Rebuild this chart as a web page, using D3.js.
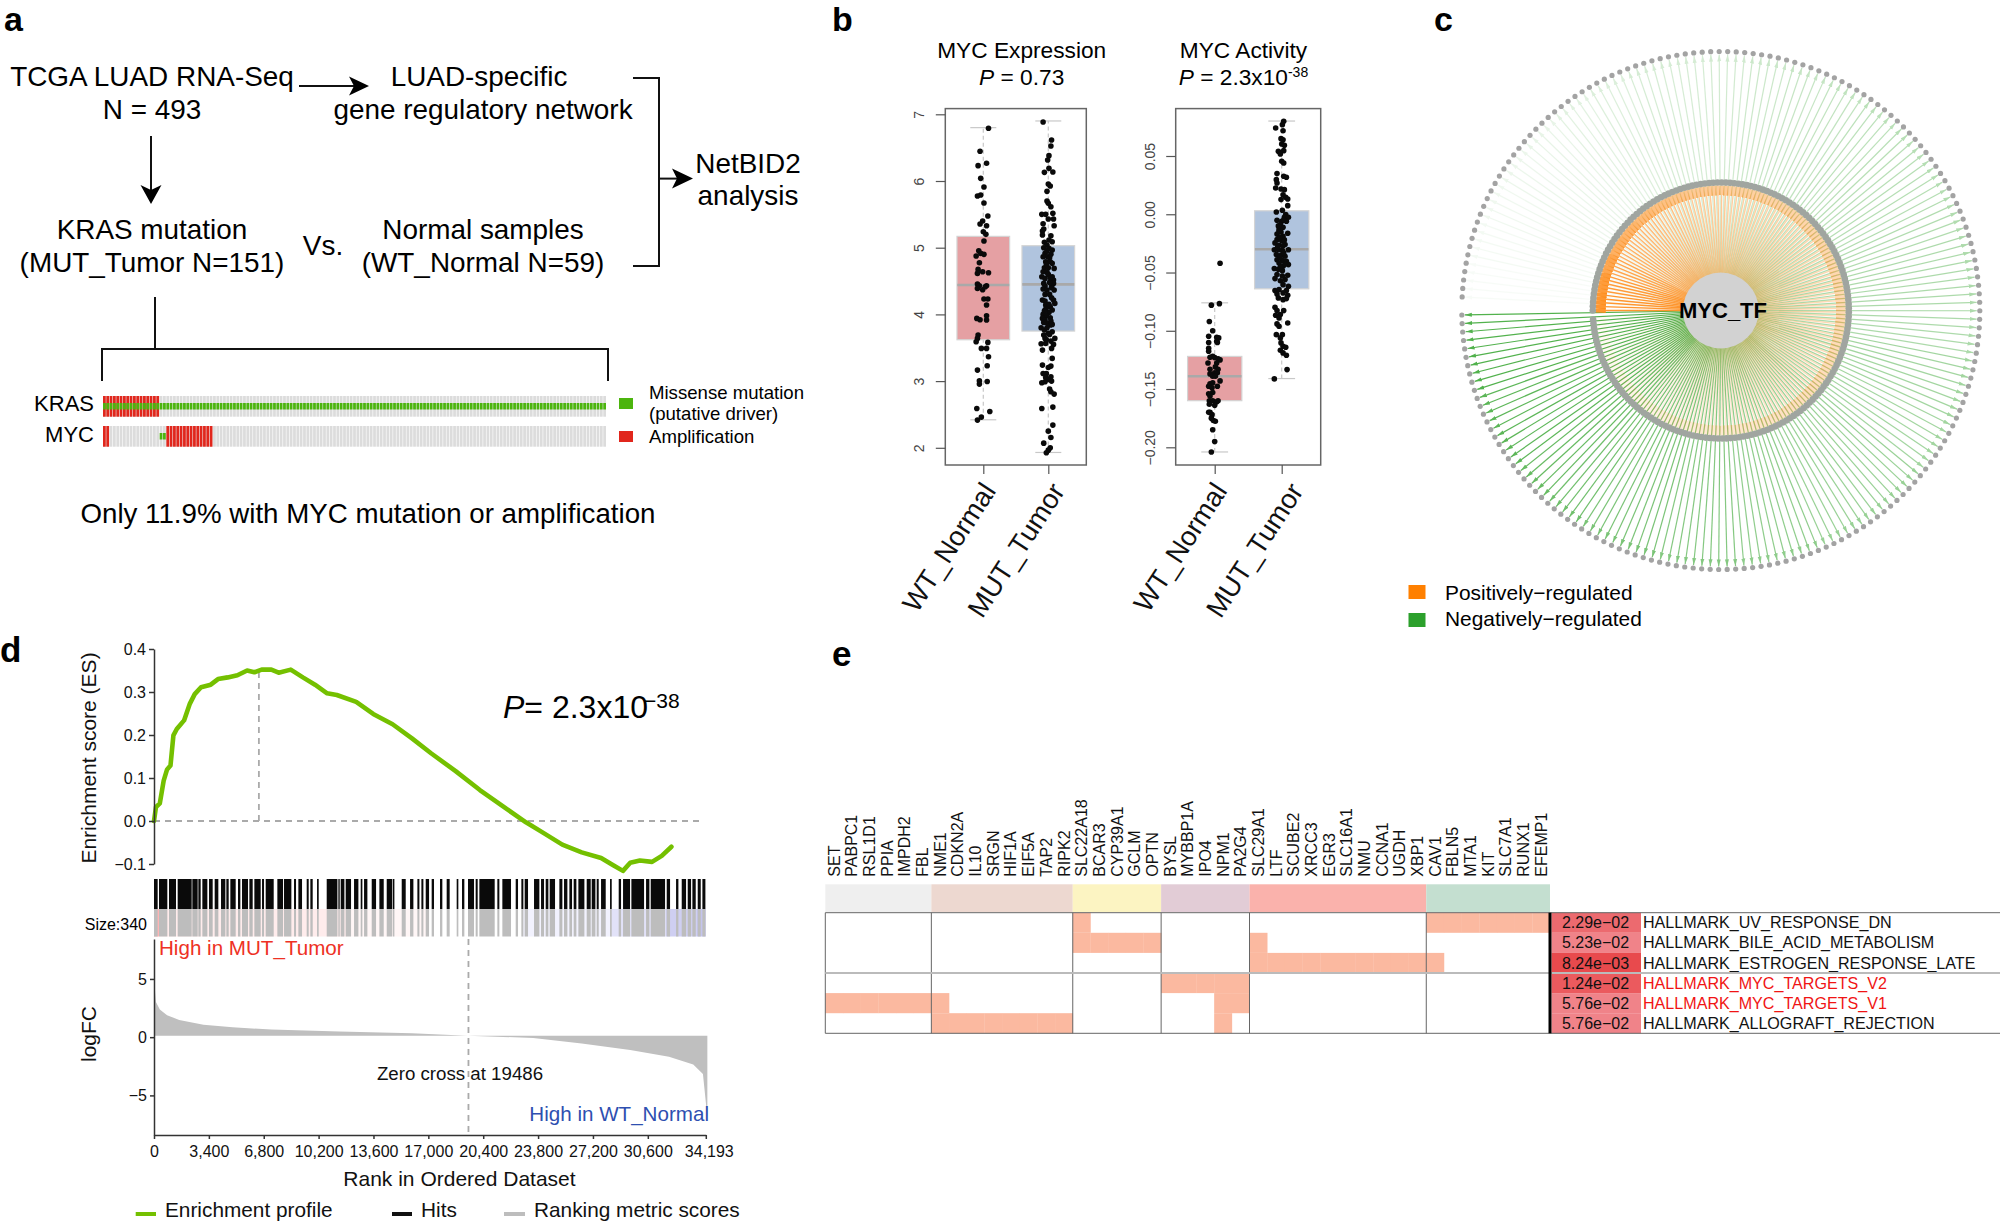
<!DOCTYPE html>
<html lang="en">
<head>
    <meta charset="UTF-8">
    <script src="https://d3js.org/d3.v7.min.js"></script>
    <title>MYC figure</title>
    <style>
        body { margin: 0; background: #fff; }
        text { font-family: "Liberation Sans", Arial, sans-serif; }
    </style>
</head>
<body>
    <div id="canvas"></div>
<script>
// panel a: oncoprint, sample indices per alteration (151 KRAS mutant tumours)
const sampleIds = d3.range(151)
const krasAmp = [0,1,2,3,4,5,6,7,8,9,10,11,12,13,14,15,16]
const mycAmp = [0,1,19,20,21,22,23,24,25,26,27,28,29,30,31,32]
const mycMissense = [17,18]

// panel b: [jitter in group units, value]
const groups = ["WT_Normal", "MUT_Tumor"]
const wtExpr = [[.08,6.79],[-.05,6.445],[.05,6.265],[-.08,6.23],[-.04,6.04],[.01,5.91],[-.04,5.79],[-.09,5.775],[.01,5.67],[.07,5.475],[-.01,5.40],[-.05,5.355],[.05,5.33],[0,5.24],[.04,5.20],[.01,5.10],[-.07,4.955],[-.04,4.915],[.01,4.90],[-.11,4.875],[-.06,4.775],[-.08,4.675],[-.09,4.615],[-.01,4.64],[.08,4.625],[-.09,4.455],[-.06,4.43],[.05,4.43],[-.09,4.39],[-.01,4.37],[.03,4.415],[.01,4.23],[.07,4.23],[.05,4.14],[-.10,3.94],[-.05,3.92],[.05,3.98],[.05,3.915],[-.08,3.69],[-.09,3.64],[-.11,3.59],[.07,3.58],[-.03,3.49],[.05,3.49],[.08,3.365],[.06,3.23],[-.09,3.165],[-.06,3.005],[-.06,2.955],[.06,2.995],[-.10,2.59],[.10,2.545],[-.03,2.46],[-.09,2.415]]
const mutExpr = [[-.08,6.885],[.05,6.615],[.04,6.525],[.01,6.38],[-.01,6.315],[.01,6.19],[-.06,6.13],[.07,6.135],[0,5.955],[.03,5.925],[-.02,5.845],[-.02,5.70],[0,5.665],[.04,5.615],[-.10,5.50],[-.04,5.50],[.07,5.515],[0,5.43],[.08,5.43],[-.08,5.36],[.09,5.33],[-.07,5.28],[-.09,5.25],[-.09,5.19],[.04,5.18],[.01,5.115],[.06,5.09],[-.06,5.08],[-.02,5.04],[-.07,5.0],[.01,4.99],[.06,4.965],[-.05,4.915],[-.08,4.865],[-.01,4.865],[-.04,4.79],[.03,4.79],[.06,4.765],[-.06,4.70],[0,4.70],[.09,4.69],[-.08,4.64],[-.02,4.63],[-.10,4.565],[-.05,4.54],[.06,4.565],[.08,4.515],[-.07,4.465],[.08,4.465],[-.05,4.425],[.05,4.415],[-.08,4.38],[-.02,4.365],[.05,4.40],[.09,4.365],[-.09,4.215],[-.05,4.20],[.08,4.215],[.10,4.165],[-.04,4.14],[.03,4.115],[.06,4.065],[-.05,4.065],[.01,4.03],[-.08,4.0],[-.03,3.98],[-.09,3.94],[-.05,3.915],[-.01,3.865],[.03,3.84],[-.11,3.80],[-.06,3.765],[.06,3.74],[0,3.715],[-.07,3.69],[-.05,3.64],[.10,3.64],[.04,3.60],[-.11,3.56],[-.04,3.565],[.08,3.55],[.05,3.49],[-.09,3.465],[.06,3.34],[-.09,3.24],[.04,3.225],[0,3.205],[-.08,3.115],[-.03,3.115],[-.04,3.055],[.04,3.065],[.01,3.025],[.05,3.0],[-.05,2.99],[-.10,2.975],[.02,2.88],[.04,2.84],[.09,2.805],[-.10,2.59],[.07,2.61],[.07,2.34],[0,2.25],[.04,2.155],[-.07,2.07],[.03,2.0],[0,1.965],[-.03,1.925],[0,4.6],[.03,4.55],[-.03,4.75],[.02,4.85],[-.02,4.95],[.04,4.9],[.02,4.48],[-.05,4.3],[.02,4.3],[.05,4.25],[-.03,4.1],[.03,3.95],[.01,4.15],[-.06,4.05],[.04,3.9],[-.02,3.8],[.02,3.7],[-.03,3.62],[.06,3.85],[-.07,3.88]]
const wtAct = [[.08,-.042],[-.05,-.078],[.07,-.0767],[-.08,-.092],[-.03,-.100],[-.09,-.1047],[.03,-.1056],[.06,-.1061],[.03,-.109],[-.09,-.110],[-.09,-.115],[-.09,-.1176],[.04,-.110],[-.07,-.1227],[-.03,-.122],[0,-.123],[.05,-.124],[.08,-.125],[-.10,-.1276],[.03,-.1276],[.01,-.131],[.05,-.133],[-.07,-.133],[0,-.136],[.04,-.136],[-.07,-.137],[-.03,-.139],[.01,-.139],[.08,-.143],[-.07,-.1456],[-.03,-.1447],[.04,-.1476],[-.09,-.1476],[-.04,-.149],[-.03,-.153],[-.09,-.154],[-.07,-.156],[-.08,-.160],[-.03,-.160],[.03,-.161],[.05,-.160],[-.08,-.163],[0,-.164],[-.07,-.170],[-.09,-.170],[-.04,-.172],[-.05,-.175],[-.02,-.177],[.01,-.1776],[-.03,-.185],[0,-.195],[-.05,-.204]]
const mutAct = [[.03,.0798],[.01,.0769],[-.09,.074],[.02,.0717],[-.01,.0649],[.02,.064],[0,.0603],[.04,.0592],[-.05,.054],[.03,.0546],[-.02,.0517],[0,.0454],[.03,.044],[-.07,.0349],[-.08,.0297],[.03,.0326],[.07,.0317],[-.07,.0268],[-.09,.0226],[-.01,.0217],[.04,.0211],[.02,.0168],[.06,.0146],[-.01,.0126],[.09,.0131],[.09,.0074],[.01,.0034],[-.08,.002],[.06,-.0003],[.04,-.0026],[.10,-.0026],[-.07,-.0052],[0,-.006],[.07,-.006],[-.02,-.0089],[.02,-.0112],[-.04,-.0132],[-.01,-.0152],[.09,-.0163],[-.07,-.017],[.02,-.019],[-.04,-.0203],[-.07,-.0218],[0,-.0226],[-.10,-.0246],[.05,-.026],[-.04,-.0266],[-.11,-.0304],[-.05,-.0304],[.01,-.0312],[.10,-.0304],[-.08,-.0346],[-.01,-.0352],[.05,-.036],[-.07,-.039],[.01,-.0398],[.07,-.0404],[-.04,-.0418],[.02,-.0447],[.10,-.0432],[-.11,-.0466],[-.05,-.0472],[.01,-.0484],[-.07,-.0518],[.09,-.0524],[-.10,-.0552],[-.02,-.057],[.05,-.056],[.02,-.0604],[.10,-.0618],[-.10,-.0655],[-.04,-.0647],[.07,-.0655],[-.07,-.0684],[.02,-.0675],[.09,-.0695],[-.05,-.0718],[.02,-.0733],[.07,-.0724],[-.10,-.0798],[-.07,-.0827],[.03,-.0827],[-.02,-.0861],[-.09,-.0867],[-.04,-.089],[-.07,-.0941],[.09,-.0933],[-.04,-.0961],[-.08,-.1033],[.01,-.1033],[-.02,-.1061],[-.01,-.1104],[.02,-.1133],[.06,-.1141],[-.02,-.1167],[.02,-.119],[.07,-.121],[.08,-.1333],[-.11,-.1413],[-.04,-.015],[.04,-.022],[-.06,-.028],[.03,-.033],[-.03,-.037],[.05,-.043],[-.05,-.01],[.03,-.005],[-.02,-.045],[.01,-.053],[-.03,-.02],[.02,-.027]]
// low whisker, q1, median, q3, high whisker
const exprStats = [[2.42,3.62,4.44,5.17,6.8],[1.93,3.75,4.45,5.03,6.9]]
const actStats = [[-.204,-.160,-.139,-.122,-.076],[-.141,-.064,-.030,.003,.080]]
const exprTicks = [2,3,4,5,6,7]
const actTicks = [-.2,-.15,-.1,-.05,0,.05]

// panel c: edge strength, one reading per 5 neighbouring targets
const negStrength = [.85,.85,.8,.8,.75,.7,.65,.65,.6,.6,.55,.55,.5,.5,.5,.45,.45,.45,.4,.4,.4,.38,.36,.35,.33,.3,.28,.25,.22,.2,.2,.17,.14,.11,.09,.07,.05,.03]
const posStrength = [1,.95,.85,.75,.7,.65,.6,.55,.5,.5,.45,.45,.42,.42,.4,.4,.38,.38,.36,.36,.34,.34,.32,.32,.3,.28,.26,.24,.22,.2,.18,.16,.13,.11,.09,.07,.05,.03]

// panel d
const esRank = [0,120,360,600,811,1022,1202,1412,1863,2224,2524,2915,3516,3967,4568,5169,5770,6220,6671,7272,7723,8474,9225,9976,10727,11328,12530,13582,14784,15986,17188,18691,20193,21696,23048,24100,25302,26504,27706,28457,29058,29509,30110,30861,31462,32063]
const esValue = [0,.032,.041,.094,.120,.129,.199,.214,.234,.273,.295,.311,.317,.330,.334,.339,.350,.346,.352,.352,.345,.352,.334,.317,.297,.293,.277,.249,.225,.192,.157,.116,.072,.032,-.003,-.027,-.055,-.073,-.086,-.103,-.116,-.097,-.092,-.095,-.081,-.060]
const esTicks = [-.1,0,.1,.2,.3,.4]
const peakRank = 6500
const zeroCross = 19486
const rankTicks = [0,3400,6800,10200,13600,17000,20400,23800,27200,30600,34193]
const hitRuns = [[0,227],[310,826],[930,1363],[1467,2335],[2376,2706],[2748,2892],[2996,3306],[3409,3636],[3760,3987],[4153,4421],[4483,4628],[4731,5062],[5206,5351],[5454,5826],[5909,6115],[6219,6611],[6694,6818],[6921,7417],[7644,7995],[8057,8512],[8677,8801],[8946,9173],[9462,9586],[9689,9834],[10103,10206],[10702,11363],[11425,11507],[11570,11797],[11879,12210],[12396,12665],[12809,12912],[13016,13222],[13491,13760],[13966,14235],[14421,14751],[14792,14896],[15350,15598],[15867,16073],[16321,16445],[16569,16693],[16838,17044],[17206,17351],[17723,17867],[18136,18322],[18756,18859],[19086,19231],[19458,19830],[19933,20057],[20161,21111],[21276,21400],[21586,22123],[22413,22557],[22764,22888],[22970,23177],[23549,23879],[23983,24169],[24272,24437],[24520,24851],[25119,25305],[25408,25615],[25739,25904],[26007,26173],[26297,26669],[26813,27061],[27123,27351],[27433,27557],[27702,27991],[28259,28363],[28796,28941],[29065,29499],[29582,30367],[30491,30697],[30780,31668],[31772,31978],[32350,32495],[32701,32970],[33073,33280],[33362,33569],[33693,33879],[33982,34168]]
const shadeFrom = [0,310,12000,17000,22800,28300,31700,33600]
const shadeTo = [310,12000,17000,22800,28300,31700,33600,34193]
const shadeColor = ["#ffb4b4","#ffecec","#fff6f6","#ffffff","#f2f2fe","#e2e2f8","#cfcff2","#c4c4ee"]
const fcRank = [0,120,360,811,1563,3065,4868,7272,11479,15986,19442,23499,26504,29509,31913,33415,34016,34100,34290]
const fcValue = [5,3.03,2.38,1.89,1.47,1.07,.85,.65,.49,.33,.13,-.07,-.55,-1.11,-1.69,-2.35,-3.16,-4.3,-6.9]
const fcBase = .13
const fcTicks = [-5,0,5]

// panel e
const genes = ["SET","PABPC1","RSL1D1","PPIA","IMPDH2","FBL","NME1","CDKN2A","IL10","SRGN","HIF1A","EIF5A","TAP2","RIPK2","SLC22A18","BCAR3","CYP39A1","GCLM","OPTN","BYSL","MYBBP1A","IPO4","NPM1","PA2G4","SLC29A1","LTF","SCUBE2","XRCC3","EGR3","SLC16A1","NMU","CCNA1","UGDH","XBP1","CAV1","FBLN5","MTA1","KIT","SLC7A1","RUNX1","EFEMP1"]
const clusterFirst = ["SET","NME1","SLC22A18","BYSL","SLC29A1","CAV1"]
const clusterLast = ["FBL","RIPK2","OPTN","PA2G4","XBP1","EFEMP1"]
const clusterColor = ["#efefef","#edd8d0","#fcf4c2","#e2ccd6","#fab2ac","#c4dfd0"]
const pathways = ["HALLMARK_UV_RESPONSE_DN","HALLMARK_BILE_ACID_METABOLISM","HALLMARK_ESTROGEN_RESPONSE_LATE","HALLMARK_MYC_TARGETS_V2","HALLMARK_MYC_TARGETS_V1","HALLMARK_ALLOGRAFT_REJECTION"]
const pValues = ["2.29e\u221202","5.23e\u221202","8.24e\u221203","1.24e\u221202","5.76e\u221202","5.76e\u221202"]
const pColor = ["#ec6a6f","#f08389","#e84a4d","#eb5a5e","#f08389","#f08389"]
const pathwayGenes = [
    ["SLC22A18","CAV1","FBLN5","MTA1","KIT","SLC7A1","RUNX1","EFEMP1"],
    ["SLC22A18","BCAR3","CYP39A1","GCLM","OPTN","SLC29A1"],
    ["SLC29A1","LTF","SCUBE2","XRCC3","EGR3","SLC16A1","NMU","CCNA1","UGDH","XBP1","CAV1"],
    ["BYSL","MYBBP1A","IPO4","NPM1","PA2G4"],
    ["SET","PABPC1","RSL1D1","PPIA","IMPDH2","FBL","NME1","NPM1","PA2G4"],
    ["NME1","CDKN2A","IL10","SRGN","HIF1A","EIF5A","TAP2","RIPK2","NPM1"]
]

const svg = d3.select("#canvas").append("svg").attr("width",2000).attr("height",1222)

function txt(x, y, str, size, anchor="start", color="#000", weight="normal") {
    return svg.append("text").attr("x",x).attr("y",y).text(str)
        .attr("font-size",size).attr("text-anchor",anchor).attr("fill",color).attr("font-weight",weight)
}
function stroke(d, w=2, color="#111") {
    return svg.append("path").attr("d",d).attr("fill","none").attr("stroke",color).attr("stroke-width",w)
}
function arrowHead(d) {
    svg.append("path").attr("d",d).attr("fill","#000")
}

// panel letters
txt(4,31,"a",34,"start","#000","bold")
txt(832,31,"b",34,"start","#000","bold")
txt(1434,31,"c",34,"start","#000","bold")
txt(0,662,"d",35,"start","#000","bold")
txt(832,666,"e",35,"start","#000","bold")

// ---- panel a: flow
const flowSize = 27.9
txt(152,86,"TCGA LUAD RNA-Seq",flowSize,"middle")
txt(152,119,"N = 493",flowSize,"middle")
txt(479,86,"LUAD-specific",flowSize,"middle")
txt(483,119,"gene regulatory network",flowSize,"middle")
txt(152,238.5,"KRAS mutation",flowSize,"middle")
txt(152,272,"(MUT_Tumor N=151)",flowSize,"middle")
txt(323,255,"Vs.",flowSize,"middle")
txt(483,238.5,"Normal samples",flowSize,"middle")
txt(483,272,"(WT_Normal N=59)",flowSize,"middle")
txt(748,172.5,"NetBID2",flowSize,"middle")
txt(748,205,"analysis",flowSize,"middle")
txt(368,523,"Only 11.9% with MYC mutation or amplification",27.7,"middle")

stroke("M299,86H355")
arrowHead("M369,86L349,76.5L354,86L349,95.5Z")
stroke("M151,136V192")
arrowHead("M151,204L140.5,185L151,190L161.5,185Z")
stroke("M633,78H659V266H633")
stroke("M659,178.6H680")
arrowHead("M693,178.6L672,168.6L677,178.6L672,188.6Z")
stroke("M155,297V349")
stroke("M102,381V349H608V381")

// ---- panel a: oncoprint
const xSample = d3.scaleBand().domain(sampleIds).range([103,606]).paddingInner(.18)
const rowTop = {KRAS:396, MYC:426}
const rowH = 20.7
Object.keys(rowTop).forEach(k => {
    svg.append("g").selectAll("rect").data(sampleIds).enter().append("rect")
        .attr("x",d=>xSample(d)).attr("width",xSample.bandwidth())
        .attr("y",rowTop[k]).attr("height",rowH).attr("fill","#dcdcdc")
})
svg.append("g").selectAll("rect").data(krasAmp).enter().append("rect")
    .attr("x",d=>xSample(d)).attr("width",xSample.bandwidth())
    .attr("y",rowTop.KRAS).attr("height",rowH).attr("fill","#e1261c")
svg.append("g").selectAll("rect").data(sampleIds).enter().append("rect")
    .attr("x",d=>xSample(d)).attr("width",xSample.bandwidth())
    .attr("y",rowTop.KRAS+7).attr("height",6.5).attr("fill","#4cb50e")
svg.append("g").selectAll("rect").data(mycAmp).enter().append("rect")
    .attr("x",d=>xSample(d)).attr("width",xSample.bandwidth())
    .attr("y",rowTop.MYC).attr("height",rowH).attr("fill","#e1261c")
svg.append("g").selectAll("rect").data(mycMissense).enter().append("rect")
    .attr("x",d=>xSample(d)).attr("width",xSample.bandwidth())
    .attr("y",rowTop.MYC+7).attr("height",6.5).attr("fill","#4cb50e")
txt(94,411,"KRAS",22,"end")
txt(94,442,"MYC",22,"end")
svg.append("rect").attr("x",619).attr("y",398).attr("width",14).attr("height",11).attr("fill","#4cb50e")
svg.append("rect").attr("x",619).attr("y",431).attr("width",14).attr("height",11).attr("fill","#e1261c")
txt(649,399,"Missense mutation",18.6)
txt(649,420,"(putative driver)",18.6)
txt(649,443,"Amplification",18.6)

// ---- panel b
function boxPlot(opt) {
    const x = d3.scaleLinear().domain([1,2]).range(opt.xRange)
    const y = d3.scaleLinear().domain(opt.yDomain).range(opt.yRange)
    const g = svg.append("g")
    opt.stats.forEach((s,i) => {
        const c = i+1
        g.append("path").attr("stroke","#c8c8c8").attr("stroke-dasharray","4,3").attr("stroke-width",1.2)
            .attr("d",`M${x(c)},${y(s[0])}V${y(s[4])}`)
        g.append("rect").attr("x",x(c-.405)).attr("width",x(c+.405)-x(c-.405))
            .attr("y",y(s[3])).attr("height",y(s[1])-y(s[3]))
            .attr("fill",i==0?"#e5a0a3":"#b0c4de").attr("stroke","#d4d4d4").attr("stroke-width",1.2)
        g.append("line").attr("x1",x(c-.4)).attr("x2",x(c+.4)).attr("y1",y(s[2])).attr("y2",y(s[2]))
            .attr("stroke","#a9a9a9").attr("stroke-width",2.6)
        ;[s[0],s[4]].forEach(w => {
            g.append("line").attr("x1",x(c-.2)).attr("x2",x(c+.2)).attr("y1",y(w)).attr("y2",y(w))
                .attr("stroke","#c8c8c8").attr("stroke-width",1.2)
        })
    })
    opt.points.forEach((pts,i) => {
        g.append("g").selectAll("circle").data(pts).enter().append("circle")
            .attr("cx",d=>x(i+1+d[0])).attr("cy",d=>y(d[1])).attr("r",2.8).attr("fill","#0a0a0a")
    })
    g.append("rect").attr("x",opt.frame[0]).attr("width",opt.frame[1]-opt.frame[0])
        .attr("y",108.6).attr("height",356.4).attr("fill","none").attr("stroke","#666").attr("stroke-width",1.5)
    const ya = d3.axisLeft(y).tickValues(opt.ticks).tickSize(9.5).tickFormat(d3.format(opt.fmt))
    const yg = g.append("g").attr("transform",`translate(${opt.frame[0]},0)`).call(ya)
    yg.select(".domain").remove()
    yg.selectAll("line").attr("stroke","#555").attr("stroke-width",1.2)
    yg.selectAll("text").attr("font-size",14).attr("fill","#444").attr("text-anchor","middle")
        .attr("dy",null).attr("x",null).attr("transform","translate(-21,0) rotate(-90)")
    const xa = d3.axisBottom(x).tickValues([1,2]).tickSize(9).tickFormat(d=>groups[d-1])
    const xg = g.append("g").attr("transform","translate(0,465)").call(xa)
    xg.select(".domain").remove()
    xg.selectAll("line").attr("stroke","#555").attr("stroke-width",1.2)
    xg.selectAll("text").attr("font-size",27.5).attr("fill","#111").attr("text-anchor","end")
        .attr("y",null).attr("dy",null)
        .attr("transform",d=>`translate(${opt.labelDx[d-1]},26) rotate(-57)`)
}
boxPlot({xRange:[983.3,1048.3], yDomain:[2,7], yRange:[447.8,114.3], frame:[945.3,1086.3],
    stats:exprStats, points:[wtExpr,mutExpr], ticks:exprTicks, fmt:"d", labelDx:[13,17]})
boxPlot({xRange:[1214.7,1281.7], yDomain:[-.2,.05], yRange:[447.3,156], frame:[1175.7,1320.7],
    stats:actStats, points:[wtAct,mutAct], ticks:actTicks, fmt:".2f", labelDx:[13,22]})

txt(1021.7,58,"MYC Expression",22.7,"middle")
const p1 = txt(1021.7,85,"",22.7,"middle")
p1.append("tspan").attr("font-style","italic").text("P")
p1.append("tspan").text(" = 0.73")
txt(1243.5,58,"MYC Activity",22.7,"middle")
const p2 = txt(1243.5,85,"",22.7,"middle")
p2.append("tspan").attr("font-style","italic").text("P")
p2.append("tspan").text(" = 2.3x10")
p2.append("tspan").attr("font-size",14).attr("dy",-8).text("-38")

// ---- panel c
const cx = 1720.8, cy = 310.5
const outerIds = d3.range(negStrength.length*5)
const innerIds = d3.range(posStrength.length*5)
const outerAngle = d3.scaleLinear().domain([0,outerIds.length-1]).range([179,-177])
const innerAngle = d3.scaleLinear().domain([0,innerIds.length-1]).range([180,536])
const polar = (deg,r) => [cx+r*Math.cos(deg*Math.PI/180), cy+r*Math.sin(deg*Math.PI/180)]
const defs = svg.append("defs")
defs.append("marker").attr("id","headGreen").attr("markerUnits","userSpaceOnUse")
    .attr("markerWidth",8).attr("markerHeight",5).attr("refX",7).attr("refY",2.5).attr("orient","auto")
    .append("path").attr("d","M0,.5L7,2.5L0,4.5Z").attr("fill","#35a52f")
defs.append("marker").attr("id","headOrange").attr("markerUnits","userSpaceOnUse")
    .attr("markerWidth",11).attr("markerHeight",8).attr("refX",10).attr("refY",4).attr("orient","auto")
    .append("path").attr("d","M0,1.5L10,2L10,6L0,6.5Z").attr("fill","#ff8c1a")
const net = svg.append("g")
net.append("g").selectAll("line").data(outerIds).enter().append("line")
    .attr("x1",cx).attr("y1",cy)
    .attr("x2",d=>polar(outerAngle(d),256)[0]).attr("y2",d=>polar(outerAngle(d),256)[1])
    .attr("stroke","#35a52f").attr("stroke-width",1.2).attr("marker-end","url(#headGreen)")
    .attr("opacity",d=>negStrength[Math.floor(d/5)])
net.append("g").selectAll("line").data(innerIds).enter().append("line")
    .attr("x1",cx).attr("y1",cy)
    .attr("x2",d=>polar(innerAngle(d),125)[0]).attr("y2",d=>polar(innerAngle(d),125)[1])
    .attr("stroke","#ff8c1a").attr("stroke-width",1.4).attr("marker-end","url(#headOrange)")
    .attr("opacity",d=>posStrength[Math.floor(d/5)]*.9)
net.append("g").selectAll("circle").data(outerIds).enter().append("circle")
    .attr("cx",d=>polar(outerAngle(d),259)[0]).attr("cy",d=>polar(outerAngle(d),259)[1])
    .attr("r",2.6).attr("fill","#a3a3a3")
net.append("g").selectAll("circle").data(innerIds).enter().append("circle")
    .attr("cx",d=>polar(innerAngle(d),128)[0]).attr("cy",d=>polar(innerAngle(d),128)[1])
    .attr("r",3.3).attr("fill","#a0a5a0")
net.append("circle").attr("cx",cx).attr("cy",cy).attr("r",38).attr("fill","#d2d2d2")
txt(1723,318,"MYC_TF",22,"middle","#000","bold")
svg.append("rect").attr("x",1408.5).attr("y",585).attr("width",17).attr("height",14).attr("fill","#ff8000")
svg.append("rect").attr("x",1408.5).attr("y",613).attr("width",17).attr("height",14).attr("fill","#2ca02c")
txt(1445,599.5,"Positively\u2212regulated",20.9)
txt(1445,626,"Negatively\u2212regulated",20.9)

// ---- panel d
const xRank = d3.scaleLinear().domain([0,34193]).range([154,705.8])
const yES = d3.scaleLinear().domain([-.1,.4]).range([864,649])
const yFC = d3.scaleLinear().domain([-8.4,8.43]).range([1135,939])

svg.append("line").attr("x1",154).attr("x2",703).attr("y1",yES(0)).attr("y2",yES(0))
    .attr("stroke","#aaa").attr("stroke-width",1.8).attr("stroke-dasharray","6,5")
svg.append("line").attr("x1",xRank(peakRank)).attr("x2",xRank(peakRank)).attr("y1",yES(0)).attr("y2",yES(.352))
    .attr("stroke","#aaa").attr("stroke-width",1.8).attr("stroke-dasharray","6,5")
const esLine = d3.line().x((d,i)=>xRank(esRank[i])).y(d=>yES(d))
svg.append("path").datum(esValue).attr("d",esLine).attr("fill","none")
    .attr("stroke","#74c000").attr("stroke-width",4.6).attr("stroke-linejoin","round").attr("stroke-linecap","round")
const esAxis = svg.append("g").attr("transform","translate(154,0)")
    .call(d3.axisLeft(yES).tickValues(esTicks).tickSize(5).tickSizeOuter(0).tickFormat(d3.format(".1f")))
esAxis.selectAll("text").attr("font-size",16).attr("fill","#111")
esAxis.selectAll("line,path").attr("stroke","#333").attr("stroke-width",1.5)
svg.append("text").attr("transform","translate(96,758) rotate(-90)").attr("text-anchor","middle")
    .attr("font-size",21).attr("fill","#111").text("Enrichment score (ES)")

// hits barcode
svg.append("g").selectAll("rect").data(shadeFrom).enter().append("rect")
    .attr("x",d=>xRank(d)).attr("width",(d,i)=>xRank(shadeTo[i])-xRank(d))
    .attr("y",909).attr("height",27.5).attr("fill",(d,i)=>shadeColor[i])
svg.append("g").selectAll("rect").data(hitRuns).enter().append("rect")
    .attr("x",d=>xRank(d[0])).attr("width",d=>xRank(d[1])-xRank(d[0]))
    .attr("y",879).attr("height",30).attr("fill","#0a0a0a")
svg.append("g").selectAll("rect").data(hitRuns).enter().append("rect")
    .attr("x",d=>xRank(d[0])).attr("width",d=>xRank(d[1])-xRank(d[0]))
    .attr("y",909).attr("height",27.5).attr("fill","#bdbdbd")
txt(147,930,"Size:340",16,"end")

// ranking metric
const fcArea = d3.area().x((d,i)=>xRank(fcRank[i])).y0(yFC(fcBase)).y1(d=>yFC(d))
svg.append("path").datum(fcValue).attr("d",fcArea).attr("fill","#bfbfbf")
svg.append("line").attr("x1",xRank(zeroCross)).attr("x2",xRank(zeroCross)).attr("y1",939).attr("y2",1135)
    .attr("stroke","#aaa").attr("stroke-width",1.8).attr("stroke-dasharray","6,5")
const fcAxis = svg.append("g").attr("transform","translate(154,0)")
    .call(d3.axisLeft(yFC).tickValues(fcTicks).tickSize(4).tickSizeOuter(0).tickFormat(d3.format("d")))
fcAxis.selectAll("text").attr("font-size",16).attr("fill","#111")
fcAxis.selectAll("line,path").attr("stroke","#333").attr("stroke-width",1.5)
const rankAxis = svg.append("g").attr("transform","translate(0,1135)")
    .call(d3.axisBottom(xRank).tickValues(rankTicks).tickSize(4).tickSizeOuter(0).tickFormat(d3.format(",")))
rankAxis.selectAll("text").attr("font-size",16).attr("fill","#111").attr("y",11)
    .attr("dx",d=>d==34193?3:0)
rankAxis.selectAll("line,path").attr("stroke","#333").attr("stroke-width",1.5)
svg.append("text").attr("transform","translate(96,1034) rotate(-90)").attr("text-anchor","middle")
    .attr("font-size",21).attr("fill","#111").text("logFC")
txt(159,954.5,"High in MUT_Tumor",20.6,"start","#ee3124")
txt(709,1120.5,"High in WT_Normal",20.6,"end","#2e4fb0")
txt(460,1080,"Zero cross at 19486",18.7,"middle","#111")
txt(459.5,1185.5,"Rank in Ordered Dataset",21,"middle","#111")

const pd = txt(503,718,"",32)
pd.append("tspan").attr("font-style","italic").text("P")
pd.append("tspan").text("= 2.3x10")
pd.append("tspan").attr("font-size",21).attr("dy",-10).attr("dx",-4).text("\u221238")

// legend d
svg.append("line").attr("x1",135.7).attr("x2",156).attr("y1",1214).attr("y2",1214).attr("stroke","#74c000").attr("stroke-width",4)
svg.append("line").attr("x1",392).attr("x2",412).attr("y1",1214).attr("y2",1214).attr("stroke","#111").attr("stroke-width",4)
svg.append("line").attr("x1",504).attr("x2",525).attr("y1",1214).attr("y2",1214).attr("stroke","#bdbdbd").attr("stroke-width",4)
txt(165,1217,"Enrichment profile",20.8,"start","#111")
txt(421,1217,"Hits",20.8,"start","#111")
txt(534,1217,"Ranking metric scores",20.8,"start","#111")

// ---- panel e
const xGene = d3.scaleBand().domain(genes).range([825.3,1550])
const yPath = d3.scaleBand().domain(pathways).range([912.7,1033.3])
const geneEnd = d => xGene(d)+xGene.bandwidth()

svg.append("g").selectAll("text").data(genes).enter().append("text")
    .attr("transform",d=>`translate(${xGene(d)+xGene.bandwidth()/2+5.6},876.7) rotate(-90)`)
    .attr("font-size",16).attr("fill","#111").text(d=>d)
svg.append("g").selectAll("rect").data(clusterFirst).enter().append("rect")
    .attr("x",d=>xGene(d)).attr("width",(d,i)=>geneEnd(clusterLast[i])-xGene(d))
    .attr("y",884.3).attr("height",27.7).attr("fill",(d,i)=>clusterColor[i])
pathwayGenes.forEach((list,i) => {
    svg.append("g").selectAll("rect").data(list).enter().append("rect")
        .attr("x",d=>xGene(d)).attr("width",xGene.bandwidth()+.3)
        .attr("y",yPath(pathways[i])).attr("height",yPath.bandwidth())
        .attr("fill","#fbb9a0")
})
svg.append("g").selectAll("rect").data(pathways).enter().append("rect")
    .attr("x",1551.5).attr("width",89.5).attr("y",d=>yPath(d)).attr("height",yPath.bandwidth())
    .attr("fill",(d,i)=>pColor[i])
svg.append("g").selectAll("text").data(pValues).enter().append("text")
    .attr("x",1595.5).attr("y",(d,i)=>yPath(pathways[i])+yPath.bandwidth()/2+5.6)
    .attr("text-anchor","middle").attr("font-size",16).attr("fill","#111").text(d=>d)
svg.append("g").selectAll("text").data(pathways).enter().append("text")
    .attr("x",1643).attr("y",d=>yPath(d)+yPath.bandwidth()/2+5.6)
    .attr("font-size",16.1).attr("fill",d=>d.includes("MYC")?"#f01414":"#111").text(d=>d)
svg.append("g").selectAll("line").data(clusterFirst).enter().append("line")
    .attr("x1",d=>xGene(d)).attr("x2",d=>xGene(d)).attr("y1",912.7).attr("y2",1033.3)
    .attr("stroke","#666").attr("stroke-width",1)
svg.append("line").attr("x1",825.3).attr("x2",2000).attr("y1",912.7).attr("y2",912.7).attr("stroke","#666").attr("stroke-width",1)
svg.append("line").attr("x1",825.3).attr("x2",2000).attr("y1",1033.3).attr("y2",1033.3).attr("stroke","#666").attr("stroke-width",1)
svg.append("line").attr("x1",825.3).attr("x2",2000).attr("y1",yPath(pathways[3])).attr("y2",yPath(pathways[3])).attr("stroke","#bbb").attr("stroke-width",1.8)
svg.append("line").attr("x1",1550).attr("x2",1550).attr("y1",912.7).attr("y2",1033.3).attr("stroke","#000").attr("stroke-width",3)
</script>
</body>
</html>
